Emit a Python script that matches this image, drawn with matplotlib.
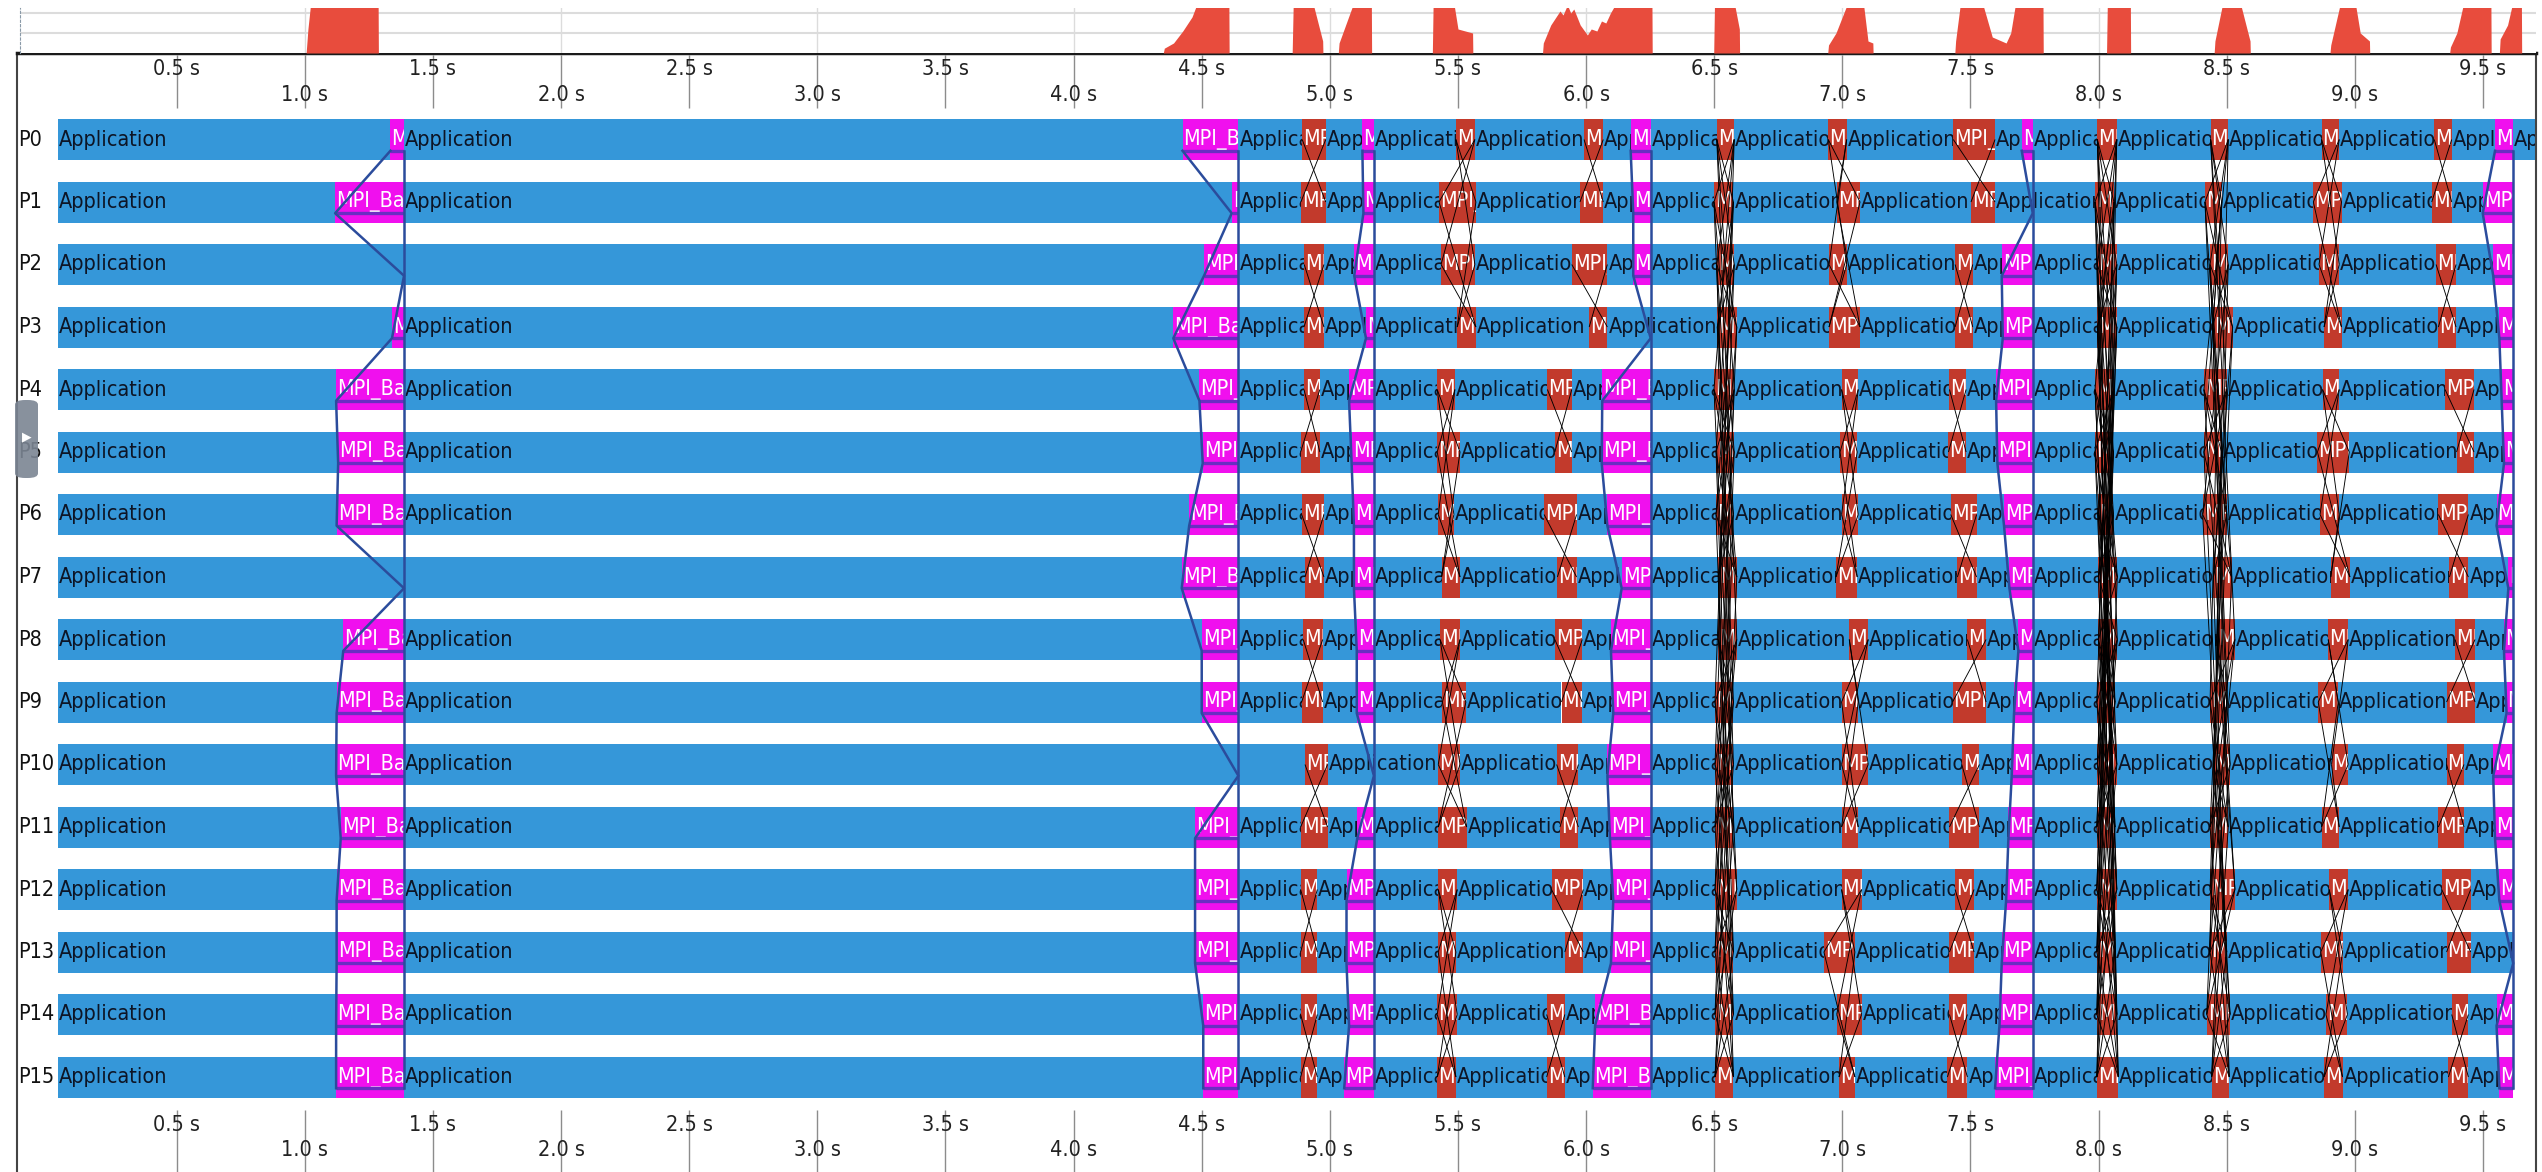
import matplotlib
matplotlib.use("Agg")
import matplotlib.pyplot as plt
from matplotlib.patches import Rectangle, FancyBboxPatch

# ---- values (times in seconds) ----
procs = ["P0", "P1", "P2", "P3", "P4", "P5", "P6", "P7",
         "P8", "P9", "P10", "P11", "P12", "P13", "P14", "P15"]
trace_start = 0.035
trace_end = [9.703, 9.618, 9.618, 9.618, 9.618, 9.618, 9.618, 9.618,
             9.618, 9.618, 9.618, 9.618, 9.618, 9.618, 9.618, 9.618]

# MPI_Barrier: enter time per process, one common exit time
barrier1_start = [1.334, 1.118, 1.387, 1.340, 1.122, 1.130, 1.124, 1.387,
                  1.150, 1.124, 1.122, 1.140, 1.124, 1.124, 1.122, 1.122]
barrier1_end = 1.387
barrier2_start = [4.425, 4.617, 4.509, 4.389, 4.491, 4.504, 4.451, 4.422,
                  4.500, 4.500, 4.643, 4.474, 4.474, 4.474, 4.506, 4.506]
barrier2_end = 4.643
barrier3_start = [5.127, 5.131, 5.095, 5.141, 5.075, 5.085, 5.094, 5.094,
                  5.105, 5.105, 5.172, 5.107, 5.065, 5.065, 5.075, 5.056]
barrier3_end = 5.172
barrier4_start = [6.174, 6.184, 6.184, 6.252, 6.063, 6.061, 6.083, 6.139,
                  6.097, 6.106, 6.083, 6.093, 6.106, 6.097, 6.035, 6.026]
barrier4_end = 6.252
barrier5_start = [7.700, 7.743, 7.622, 7.626, 7.600, 7.605, 7.631, 7.652,
                  7.687, 7.670, 7.661, 7.648, 7.639, 7.622, 7.613, 7.596]
barrier5_end = 7.743
barrier6_start = [9.547, 9.499, 9.540, 9.564, 9.573, 9.582, 9.553, 9.599,
                  9.582, 9.592, 9.540, 9.547, 9.564, 9.618, 9.553, 9.564]
barrier6_end = 9.618

# point-to-point / collective exchanges (red blocks)
exch1_start = [4.892, 4.887, 4.900, 4.899, 4.899, 4.886, 4.890, 4.903,
               4.896, 4.890, 4.903, 4.886, 4.886, 4.886, 4.886, 4.886]
exch1_end = [4.984, 4.984, 4.977, 4.977, 4.961, 4.961, 4.977, 4.977,
             4.972, 4.972, 4.991, 4.991, 4.951, 4.951, 4.951, 4.951]
exch2_start = [5.492, 5.426, 5.434, 5.497, 5.419, 5.419, 5.423, 5.436,
               5.430, 5.439, 5.423, 5.423, 5.423, 5.423, 5.419, 5.419]
exch2_end = [5.566, 5.570, 5.566, 5.570, 5.488, 5.508, 5.484, 5.508,
             5.508, 5.531, 5.508, 5.534, 5.497, 5.492, 5.497, 5.492]
exch3_start = [5.992, 5.976, 5.944, 6.012, 5.849, 5.878, 5.836, 5.888,
               5.878, 5.904, 5.885, 5.898, 5.865, 5.917, 5.846, 5.846]
exch3_end = [6.067, 6.067, 6.083, 6.083, 5.944, 5.944, 5.963, 5.963,
             5.985, 5.985, 5.970, 5.970, 5.989, 5.989, 5.917, 5.917]
exch4_start = [6.510, 6.499, 6.510, 6.512, 6.499, 6.507, 6.507, 6.516,
               6.516, 6.503, 6.503, 6.503, 6.503, 6.503, 6.503, 6.503]
exch4_end = [6.578, 6.575, 6.578, 6.588, 6.578, 6.578, 6.575, 6.588,
             6.588, 6.575, 6.575, 6.575, 6.588, 6.575, 6.575, 6.575]
exch5_start = [6.945, 6.978, 6.948, 6.948, 6.997, 6.991, 6.997, 6.975,
               7.027, 6.997, 6.997, 6.997, 6.997, 6.928, 6.978, 6.987]
exch5_end = [7.017, 7.069, 7.017, 7.069, 7.062, 7.058, 7.062, 7.058,
             7.101, 7.062, 7.101, 7.062, 7.075, 7.049, 7.075, 7.049]
exch6_start = [7.433, 7.502, 7.440, 7.440, 7.418, 7.414, 7.423, 7.449,
               7.488, 7.430, 7.466, 7.418, 7.440, 7.418, 7.418, 7.410]
exch6_end = [7.596, 7.596, 7.509, 7.509, 7.483, 7.483, 7.524, 7.524,
             7.561, 7.561, 7.535, 7.535, 7.514, 7.514, 7.488, 7.488]
exch7_start = [7.995, 7.986, 7.995, 7.995, 7.986, 7.986, 7.999, 7.999,
               7.999, 7.993, 7.995, 7.993, 7.993, 7.993, 7.993, 7.993]
exch7_end = [8.071, 8.060, 8.071, 8.071, 8.058, 8.058, 8.058, 8.073,
             8.073, 8.064, 8.071, 8.064, 8.071, 8.064, 8.071, 8.077]
exch8_start = [8.437, 8.415, 8.435, 8.445, 8.411, 8.411, 8.406, 8.448,
               8.461, 8.435, 8.448, 8.435, 8.435, 8.435, 8.422, 8.441]
exch8_end = [8.506, 8.480, 8.506, 8.523, 8.500, 8.480, 8.500, 8.519,
             8.532, 8.500, 8.513, 8.506, 8.532, 8.500, 8.513, 8.510]
exch9_start = [8.870, 8.838, 8.860, 8.880, 8.874, 8.854, 8.864, 8.906,
               8.896, 8.857, 8.909, 8.870, 8.900, 8.867, 8.887, 8.880]
exch9_end = [8.939, 8.948, 8.939, 8.948, 8.939, 8.978, 8.939, 8.981,
             8.974, 8.935, 8.974, 8.939, 8.974, 8.952, 8.971, 8.952]
exch10_start = [9.310, 9.300, 9.317, 9.326, 9.352, 9.397, 9.326, 9.369,
                9.391, 9.358, 9.358, 9.326, 9.339, 9.358, 9.378, 9.365]
exch10_end = [9.378, 9.378, 9.395, 9.395, 9.465, 9.465, 9.443, 9.443,
              9.469, 9.469, 9.426, 9.426, 9.452, 9.452, 9.443, 9.443]

# message partners as rank XOR masks
pairs_only = [1]
pairs_and_neighbours = [1, 2]
butterfly = [1, 2, 4, 8]
wide_exchange = [1, 2, 4, 8, 15]

# "MPI share" overview strip above the timeline
hist_time = [1.005, 1.012, 1.022, 1.286, 1.287,
             4.350, 4.354, 4.390, 4.426, 4.462, 4.480, 4.606, 4.607,
             4.853, 4.857, 4.936, 4.972, 4.973,
             5.033, 5.036, 5.090, 5.162, 5.163,
             5.400, 5.403, 5.485, 5.500, 5.557, 5.558,
             5.830, 5.833, 5.862, 5.898, 5.910, 5.927, 5.940, 5.952, 5.977,
             6.005, 6.020, 6.042, 6.060, 6.077, 6.095, 6.113, 6.257, 6.258,
             6.498, 6.501, 6.580, 6.598, 6.599,
             6.943, 6.946, 6.975, 7.018, 7.083, 7.100, 7.119, 7.120,
             7.439, 7.442, 7.460, 7.549, 7.585, 7.639, 7.657, 7.675, 7.783, 7.784,
             8.031, 8.034, 8.124, 8.125,
             8.451, 8.454, 8.483, 8.555, 8.591, 8.592,
             8.903, 8.906, 8.942, 9.003, 9.021, 9.057, 9.058,
             9.370, 9.373, 9.398, 9.423, 9.531, 9.532,
             9.564, 9.567, 9.596, 9.614, 9.650, 9.651]
hist_level = [0, 0.6, 1.2, 1.2, 0,
              0, 0.12, 0.25, 0.55, 0.9, 1.2, 1.2, 0,
              0, 1.2, 1.2, 0.3, 0,
              0, 0.25, 1.2, 1.2, 0,
              0, 1.2, 1.2, 0.6, 0.5, 0,
              0, 0.25, 0.7, 1.05, 0.95, 1.2, 1.0, 1.1, 0.7,
              0.45, 0.6, 0.55, 0.8, 0.75, 1.0, 1.2, 1.2, 0,
              0, 1.2, 1.2, 0.6, 0,
              0, 0.2, 0.5, 1.2, 1.2, 0.3, 0.25, 0,
              0, 0.3, 1.2, 1.2, 0.4, 0.25, 0.5, 1.2, 1.2, 0,
              0, 1.2, 1.2, 0,
              0, 0.3, 1.2, 1.2, 0.3, 0,
              0, 0.2, 1.2, 1.2, 0.5, 0.3, 0,
              0, 0.15, 0.5, 1.2, 1.2, 0,
              0, 0.35, 0.7, 1.2, 1.2, 0]

tick_values = [0.5, 1.0, 1.5, 2.0, 2.5, 3.0, 3.5, 4.0, 4.5,
               5.0, 5.5, 6.0, 6.5, 7.0, 7.5, 8.0, 8.5, 9.0, 9.5]

# ---- styling ----
APP_BLUE = "#3597d9"
BARRIER = "#f010ee"
MPI_RED = "#c23a2c"
HIST_RED = "#e84c3d"
COLL_LINE = "#2b4c9c"
UNDERLINE = "#6a2ec2"
FS = 15.5
FONT = dict(family="DejaVu Sans", fontstretch="condensed", fontsize=FS)

W, H = 2542, 1172


def px2t(x):
    # screen x pixel -> seconds (calibrated on the tick marks)
    return (x - 48.6) / 256.25


fig = plt.figure(figsize=(W / 100, H / 100), dpi=100)
fig.patch.set_facecolor("white")

ax = fig.add_axes([17 / W, 0, 2519 / W, 1119 / H])
ax.set_xlim(px2t(17), px2t(2536))
ax.set_ylim(16.52, -1.384)
ax.set_xticks([])
ax.set_yticks([])
ax.spines["bottom"].set_visible(False)
ax.spines["top"].set_linewidth(2.5)
ax.spines["top"].set_color("#1a1a1a")
for s in ("left", "right"):
    ax.spines[s].set_color("#444444")
    ax.spines[s].set_linewidth(1.5)

BH = 0.656  # bar height in row units

barriers = [(barrier1_start, barrier1_end), (barrier2_start, barrier2_end),
            (barrier3_start, barrier3_end), (barrier4_start, barrier4_end),
            (barrier5_start, barrier5_end), (barrier6_start, barrier6_end)]
exchanges = [(exch1_start, exch1_end, "MPI_Sendrecv", pairs_only),
             (exch2_start, exch2_end, "MPI_Sendrecv", pairs_and_neighbours),
             (exch3_start, exch3_end, "MPI_Sendrecv", pairs_only),
             (exch4_start, exch4_end, "MPI_Allreduce", butterfly),
             (exch5_start, exch5_end, "MPI_Sendrecv", pairs_and_neighbours),
             (exch6_start, exch6_end, "MPI_Sendrecv", pairs_only),
             (exch7_start, exch7_end, "MPI_Alltoall", wide_exchange),
             (exch8_start, exch8_end, "MPI_Allreduce", butterfly),
             (exch9_start, exch9_end, "MPI_Sendrecv", pairs_and_neighbours),
             (exch10_start, exch10_end, "MPI_Sendrecv", pairs_only)]


def block(x0, x1, row, color, name, txtcolor):
    r = Rectangle((x0, row - BH / 2), x1 - x0, BH, facecolor=color,
                  edgecolor="none", zorder=2)
    ax.add_patch(r)
    t = ax.text(x0 + 0.004, row, name, color=txtcolor, va="center",
                ha="left", zorder=3, clip_on=True, **FONT)
    t.set_clip_path(r)


for i in range(len(procs)):
    events = []
    for st, en in barriers:
        if en - st[i] > 0.001:
            events.append((st[i], en, "MPI_Barrier", BARRIER))
    for st, en, name, _ in exchanges:
        events.append((st[i], en[i], name, MPI_RED))
    events.sort()
    cur = trace_start
    for s, e, name, col in events:
        if s > cur:
            block(cur, s, i, APP_BLUE, "Application", "#0d1526")
        block(s, e, i, col, name, "white")
        cur = max(cur, e)
    block(cur, trace_end[i], i, APP_BLUE, "Application", "#0d1526")
    ax.text(px2t(18), i, procs[i], color="#111111", va="center", ha="left",
            zorder=3, **FONT)

# message lines
for st, en, _, masks in exchanges:
    for m in masks:
        for i in range(len(procs)):
            j = i ^ m
            if j > i:
                ax.plot([st[i], en[j]], [i, j], color="black", lw=0.65,
                        zorder=4, solid_capstyle="butt")
                ax.plot([st[j], en[i]], [j, i], color="black", lw=0.65,
                        zorder=4, solid_capstyle="butt")

# collective lines for the barriers
off = 0.18
rows = list(range(len(procs)))
for st, en in barriers:
    xs = [min(s, en) for s in st]
    ax.plot(xs, [r + off for r in rows], color=COLL_LINE, lw=1.8, zorder=5)
    ax.plot([en, en], [off, rows[-1] + off], color=COLL_LINE, lw=1.8, zorder=5)
    for r, s in zip(rows, st):
        if en - s > 0.001:
            ax.plot([s, en], [r + off, r + off], color=UNDERLINE, lw=2.4,
                    zorder=4.5, solid_capstyle="butt")

# time axis (top and bottom), two staggered label rows
ax.vlines(tick_values, -1.352, -0.504, color="#8c8c8c", lw=1, zorder=0.5)
ax.vlines(tick_values, 15.53, 16.6, color="#8c8c8c", lw=1, zorder=0.5)
for v in tick_values:
    half = round(v * 10) % 10 == 5
    lab = f"{v:.1f} s"
    ax.text(v, -1.128 if half else -0.712, lab, ha="center", va="center",
            color="#222222", zorder=3, **FONT)
    ax.text(v, 15.77 if half else 16.17, lab, ha="center", va="center",
            color="#222222", zorder=3, **FONT)

# overview strip
axh = fig.add_axes([20 / W, (H - 53) / H, 2516 / W, 45 / H])
axh.set_xlim(px2t(20), px2t(2536))
axh.set_ylim(0, 1.125)
axh.set_xticks([])
axh.set_yticks([])
for s in ("top", "right", "bottom"):
    axh.spines[s].set_visible(False)
axh.spines["left"].set_linestyle((0, (2, 2)))
axh.spines["left"].set_color("#8a9aa8")
for g in (0.5, 1.0):
    axh.axhline(g, color="#dcdcdc", lw=1.5, zorder=0)
for v in tick_values:
    if round(v * 10) % 10 == 0:
        axh.axvline(v, color="#dcdcdc", lw=1, zorder=0)
axh.fill_between(hist_time, hist_level, 0, color=HIST_RED, lw=0, zorder=2)

# little collapse handle on the left edge
fig.patches.append(FancyBboxPatch((15 / W, (H - 478) / H), 23 / W, 78 / H,
                                  boxstyle="round,pad=0,rounding_size=0.004",
                                  transform=fig.transFigure, facecolor="#7b8593",
                                  edgecolor="none", alpha=0.9, zorder=10))
fig.text(26.5 / W, (H - 437) / H, "\u25b6", color="white", fontsize=9,
         ha="center", va="center", zorder=11)

fig.savefig("out.png", dpi=100, facecolor="white")
